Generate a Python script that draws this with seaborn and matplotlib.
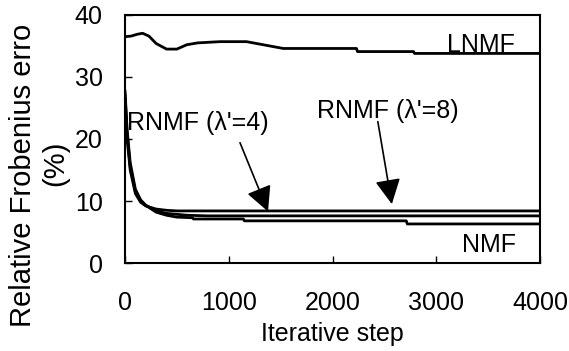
import numpy as np
import pandas as pd
import seaborn as sns
import matplotlib
matplotlib.use('Agg')
import matplotlib.pyplot as plt

# values
lnmf_iter = [0, 60, 120, 170, 230, 300, 400, 500, 595, 700, 915, 1170, 1300, 1525, 2230, 2240, 2780, 2790, 4000]
lnmf_err = [36.5, 36.6, 36.9, 37.05, 36.6, 35.4, 34.5, 34.5, 35.2, 35.5, 35.7, 35.7, 35.3, 34.6, 34.6, 34.1, 34.1, 33.8, 33.8]

rnmf4_iter = [0, 20, 50, 100, 150, 200, 300, 400, 500, 4000]
rnmf4_err = [26.5, 20.0, 15.0, 11.2, 9.8, 9.2, 8.7, 8.5, 8.4, 8.4]

rnmf8_iter = [0, 20, 50, 100, 150, 200, 300, 400, 600, 800, 4000]
rnmf8_err = [27.2, 21.0, 15.5, 11.5, 10.0, 9.3, 8.4, 8.0, 7.7, 7.6, 7.6]

nmf_iter = [0, 20, 50, 100, 150, 200, 300, 400, 500, 650, 660, 1140, 1150, 2710, 2720, 4000]
nmf_err = [27.8, 21.5, 16.2, 11.9, 10.2, 9.3, 8.2, 7.7, 7.4, 7.3, 7.1, 7.1, 6.8, 6.8, 6.3, 6.3]

series = {
    'LNMF': (lnmf_iter, lnmf_err),
    "RNMF (λ'=4)": (rnmf4_iter, rnmf4_err),
    "RNMF (λ'=8)": (rnmf8_iter, rnmf8_err),
    'NMF': (nmf_iter, nmf_err),
}

sns.set_style('ticks')
plt.rcParams['font.family'] = ['Liberation Sans', 'DejaVu Sans']
plt.rcParams['font.size'] = 18
plt.rcParams['text.color'] = 'black'
plt.rcParams['axes.labelcolor'] = 'black'

fig = plt.figure(figsize=(5.69, 3.51), dpi=100)
ax = fig.add_axes([0.2197, 0.2507, 0.7296, 0.7066])

for name, (xs, ys) in series.items():
    df = pd.DataFrame({'step': xs, 'err': ys})
    sns.lineplot(data=df, x='step', y='err', ax=ax, color='black', lw=2.0, sort=False)

ax.set_xlim(0, 4000)
ax.set_ylim(0, 40)
ax.set_xticks([0, 1000, 2000, 3000, 4000])
ax.set_yticks([0, 10, 20, 30, 40])
ax.tick_params(direction='in', length=5, width=1, labelsize=18, colors='black')
ax.tick_params(axis='x', pad=20)
ax.tick_params(axis='y', pad=16)
for s in ax.spines.values():
    s.set_linewidth(1.5)
    s.set_color('black')
ax.set_xlabel('Iterative step', fontsize=18, labelpad=5)
ax.set_ylabel('')

fig.text(0.040, 0.499, 'Relative Frobenius erro', rotation=90, fontsize=21, ha='center', va='center')
fig.text(0.097, 0.536, '(%)', rotation=90, fontsize=21, ha='center', va='center')

ax.text(3103, 34.0, 'LNMF', fontsize=18, ha='left', va='baseline')
ax.text(3248, 1.8, 'NMF', fontsize=18, ha='left', va='baseline')

arrow = dict(arrowstyle='-|>,head_length=0.55,head_width=0.28', mutation_scale=28,
             lw=1.2, color='black', shrinkA=0, shrinkB=0)
ax.text(19, 21.5, "RNMF (λ'=4)", fontsize=18, ha='left', va='baseline')
ax.annotate('', xy=(1378, 8.3), xytext=(1108, 19.4), arrowprops=arrow)
ax.text(1850, 23.4, "RNMF (λ'=8)", fontsize=18, ha='left', va='baseline')
ax.annotate('', xy=(2571, 9.5), xytext=(2436, 22.8), arrowprops=arrow)

fig.savefig('out.png', dpi=100)
